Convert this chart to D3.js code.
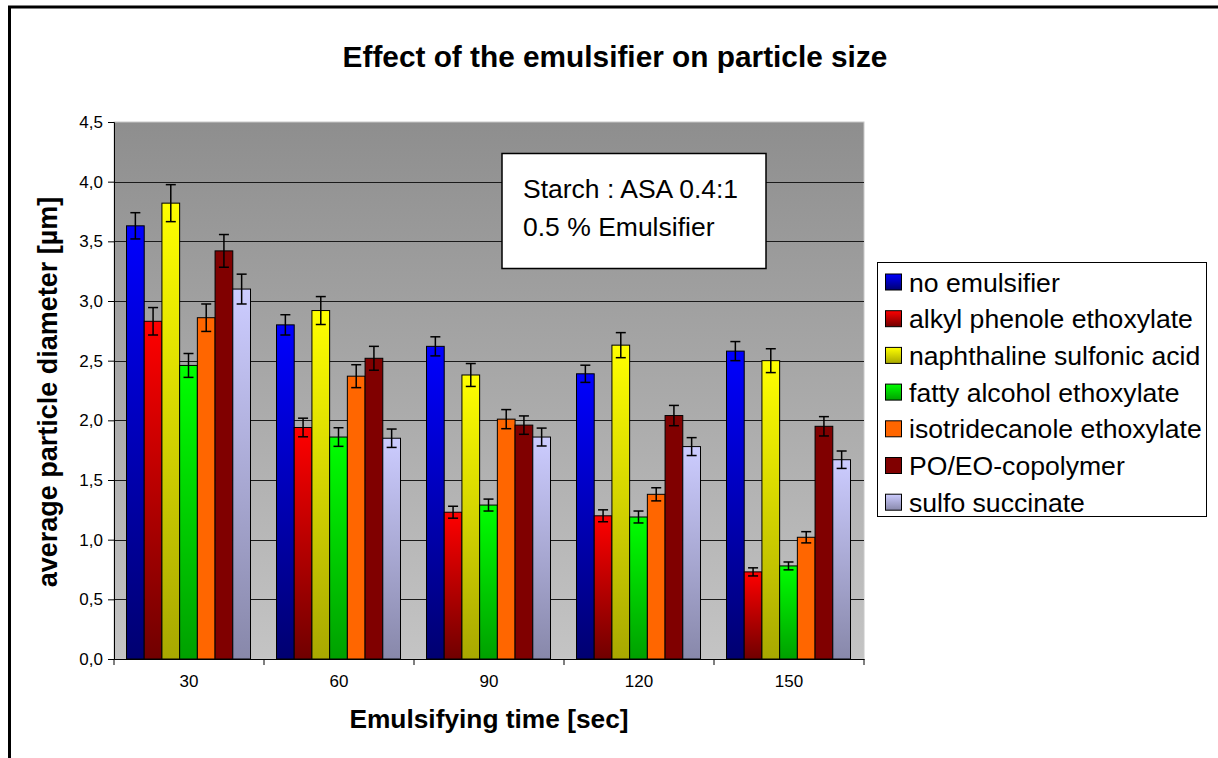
<!DOCTYPE html>
<html><head><meta charset="utf-8">
<script src="https://cdn.jsdelivr.net/npm/d3@7"></script>
<style>body{margin:0;background:#fff}svg{display:block}text{font-family:"Liberation Sans",Arial,sans-serif}</style>
</head><body>
<svg id="c" width="1218" height="758"></svg>
<script>
const categories = ["30","60","90","120","150"];
const seriesNames = ["no emulsifier","alkyl phenole ethoxylate","naphthaline sulfonic acid","fatty alcohol ethoxylate","isotridecanole ethoxylate","PO/EO-copolymer","sulfo succinate"];
const noEmulsifier   = [3.63, 2.80, 2.62, 2.39, 2.58];
const alkylPhenole   = [2.83, 1.94, 1.23, 1.20, 0.73];
const naphthaline    = [3.82, 2.92, 2.38, 2.63, 2.50];
const fattyAlcohol   = [2.46, 1.86, 1.29, 1.19, 0.78];
const isotridecanole = [2.86, 2.37, 2.01, 1.38, 1.02];
const poeo           = [3.42, 2.52, 1.96, 2.04, 1.95];
const sulfoSucc      = [3.10, 1.85, 1.86, 1.78, 1.67];
const errNoEmulsifier   = [0.11, 0.085, 0.08, 0.072, 0.08];
const errAlkylPhenole   = [0.115, 0.078, 0.05, 0.05, 0.034];
const errNaphthaline    = [0.155, 0.117, 0.096, 0.105, 0.10];
const errFattyAlcohol   = [0.10, 0.078, 0.05, 0.05, 0.033];
const errIsotridecanole = [0.115, 0.096, 0.08, 0.055, 0.047];
const errPoeo           = [0.137, 0.10, 0.077, 0.085, 0.081];
const errSulfoSucc      = [0.125, 0.077, 0.075, 0.075, 0.073];
const yTicks = [0,0.5,1,1.5,2,2.5,3,3.5,4,4.5];
const values = [noEmulsifier, alkylPhenole, naphthaline, fattyAlcohol, isotridecanole, poeo, sulfoSucc];
const errors = [errNoEmulsifier, errAlkylPhenole, errNaphthaline, errFattyAlcohol, errIsotridecanole, errPoeo, errSulfoSucc];
const colorTop = ["#0000ff","#ff0000","#ffff00","#00ff00","#ff6600","#800000","#ccccff"];
const colorBot = ["#000070","#700000","#a8a800","#00a000","#ff6600","#800000","#8888aa"];

const svg = d3.select("#c");
const L = 114, R = 864, T = 122, B = 659;
const defs = svg.append("defs");
const bg = defs.append("linearGradient").attr("id","bg").attr("x1",0).attr("y1",0).attr("x2",0).attr("y2",1);
bg.append("stop").attr("offset","0%").attr("stop-color","#8e8e8e");
bg.append("stop").attr("offset","100%").attr("stop-color","#c4c4c4");
colorTop.forEach((c,i)=>{
  const g = defs.append("linearGradient").attr("id","g"+i).attr("x1",0).attr("y1",0).attr("x2",0).attr("y2",1);
  g.append("stop").attr("offset","0%").attr("stop-color",c);
  g.append("stop").attr("offset","100%").attr("stop-color",colorBot[i]);
});

// outer frame
svg.append("rect").attr("x",9.5).attr("y",7).attr("width",1400).attr("height",900)
  .attr("fill","none").attr("stroke","#000").attr("stroke-width",3);

const x0 = d3.scaleBand().domain(categories).range([L,R]).padding(0);
const x1 = d3.scaleBand().domain(d3.range(7)).range([12.5, 136.5]).padding(0);
const y = d3.scaleLinear().domain([0,4.5]).range([B,T]);

svg.append("rect").attr("x",L).attr("y",T).attr("width",R-L).attr("height",B-T)
  .attr("fill","url(#bg)").attr("stroke","#c8c8c8").attr("stroke-width",1);

svg.append("g").selectAll("line").data(yTicks.filter(v=>v>0 && v<4.5)).join("line")
  .attr("x1",L).attr("x2",R).attr("y1",d=>Math.round(y(d))+0.5).attr("y2",d=>Math.round(y(d))+0.5)
  .attr("stroke","#1a1a1a").attr("stroke-width",1);

// bars
const groups = svg.append("g").selectAll("g").data(categories).join("g")
  .attr("transform",d=>`translate(${x0(d)},0)`);
groups.each(function(cat,ci){
  const g = d3.select(this);
  const data = values.map((s,si)=>({si, v:s[ci], e:errors[si][ci]}));
  g.selectAll("rect").data(data).join("rect")
    .attr("x",d=>x1(d.si)).attr("width",x1.bandwidth())
    .attr("y",d=>y(d.v)).attr("height",d=>B-y(d.v))
    .attr("fill",d=>`url(#g${d.si})`).attr("stroke","#000").attr("stroke-width",1);
  const eb = g.selectAll("g.eb").data(data).join("g").attr("class","eb");
  eb.append("line").attr("x1",d=>x1(d.si)+x1.bandwidth()/2).attr("x2",d=>x1(d.si)+x1.bandwidth()/2)
    .attr("y1",d=>y(d.v+d.e)).attr("y2",d=>y(d.v-d.e)).attr("stroke","#000").attr("stroke-width",1.5);
  [1,-1].forEach(s=>{
    eb.append("line").attr("x1",d=>x1(d.si)+x1.bandwidth()/2-5).attr("x2",d=>x1(d.si)+x1.bandwidth()/2+5)
      .attr("y1",d=>y(d.v+s*d.e)).attr("y2",d=>y(d.v+s*d.e)).attr("stroke","#000").attr("stroke-width",1.5);
  });
});

// axes
const yAxis = d3.axisLeft(y).tickValues(yTicks).tickSize(6).tickPadding(5)
  .tickFormat(d=>d3.format(".1f")(d).replace(".",","));
const ya = svg.append("g").attr("transform",`translate(${L},0)`).call(yAxis);
ya.select(".domain").attr("stroke","#000");
ya.selectAll("text").attr("font-size",17).attr("font-family","Liberation Sans, Arial, sans-serif").attr("fill","#000");

const xa = svg.append("g").attr("transform",`translate(0,${B})`).call(d3.axisBottom(x0).tickSize(0).tickPadding(16));
xa.select(".domain").attr("stroke","#000");
xa.selectAll("text").attr("font-size",17).attr("font-family","Liberation Sans, Arial, sans-serif").attr("fill","#000");
svg.append("g").selectAll("line").data(d3.range(categories.length+1)).join("line")
  .attr("x1",i=>L+i*x0.bandwidth()).attr("x2",i=>L+i*x0.bandwidth())
  .attr("y1",B).attr("y2",B+6).attr("stroke","#000");

// titles
svg.append("text").attr("x",615).attr("y",67).attr("text-anchor","middle")
  .attr("font-size",29.8).attr("font-weight","bold").text("Effect of the emulsifier on particle size");
svg.append("text").attr("x",489).attr("y",728).attr("text-anchor","middle")
  .attr("font-size",26.3).attr("font-weight","bold").text("Emulsifying time [sec]");
svg.append("text").attr("transform","translate(57,392) rotate(-90)").attr("text-anchor","middle")
  .attr("font-size",27).attr("font-weight","bold").text("average particle diameter [µm]");

// annotation
svg.append("rect").attr("x",502).attr("y",153.5).attr("width",264).attr("height",115)
  .attr("fill","#fff").attr("stroke","#000").attr("stroke-width",1.5);
svg.append("text").attr("x",523).attr("y",198).attr("font-size",26.5).text("Starch : ASA 0.4:1");
svg.append("text").attr("x",523).attr("y",236).attr("font-size",26.5).text("0.5 % Emulsifier");

// legend
const lg = svg.append("g");
lg.append("rect").attr("x",877.5).attr("y",262.5).attr("width",329).attr("height",254)
  .attr("fill","#fff").attr("stroke","#000").attr("stroke-width",1);
const li = lg.selectAll("g").data(seriesNames).join("g")
  .attr("transform",(d,i)=>`translate(0,${282+i*36.7})`);
li.append("rect").attr("x",885.5).attr("y",-8).attr("width",16).attr("height",16)
  .attr("fill",(d,i)=>`url(#g${i})`).attr("stroke","#000").attr("stroke-width",1);
li.append("text").attr("x",909).attr("y",9.5).attr("font-size",26.6).text(d=>d);
</script>
</body></html>
